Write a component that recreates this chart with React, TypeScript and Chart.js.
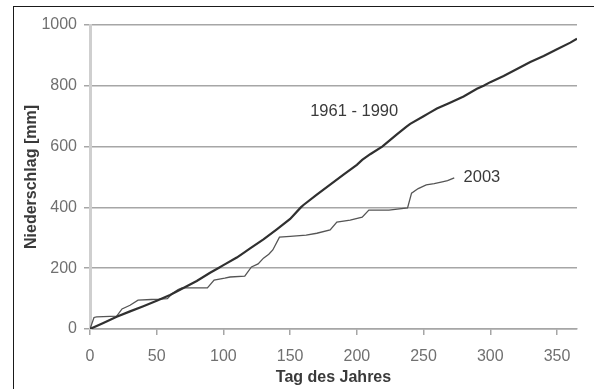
import React, { useEffect, useRef } from "react";
import { Chart, registerables } from "chart.js";

Chart.register(...registerables);

const normalDays = [0, 10, 20, 30, 40, 50, 60, 70, 80, 90, 96, 100, 110, 116, 120, 130, 140, 150, 158, 160, 170, 180, 190, 200, 204, 210, 219, 230, 237, 240, 250, 254, 260, 269, 280, 290, 295, 300, 310, 320, 330, 340, 350, 360, 365];
const normalValues = [0, 20, 40, 58, 75, 93, 112, 135, 158, 185, 200, 210, 235, 253, 265, 295, 328, 362, 400, 408, 442, 475, 508, 540, 556, 575, 600, 640, 665, 675, 700, 710, 725, 743, 765, 790, 800, 812, 832, 855, 878, 898, 920, 942, 955];

const days2003 = [0, 3, 5, 20, 24, 30, 36, 46, 52, 58, 62, 66, 69, 88, 93, 101, 105, 116, 121, 126, 130, 134, 137, 142, 150, 162, 170, 180, 185, 195, 204, 209, 224, 238, 241, 246, 252, 258, 264, 268, 273];
const values2003 = [0, 38, 40, 42, 66, 78, 95, 97, 98, 100, 118, 130, 135, 135, 161, 167, 171, 174, 204, 214, 233, 246, 260, 302, 305, 309, 315, 326, 352, 358, 368, 391, 391, 398, 447, 462, 474, 478, 484, 488, 497];

const yTicks = [0, 200, 400, 600, 800, 1000];
const xTicks = [0, 50, 100, 150, 200, 250, 300, 350];

const seriesLabels = ["1961 - 1990", "2003"];
const labelAnchors = [
  { day: 165, value: 714, align: "left" as CanvasTextAlign },
  { day: 280, value: 497, align: "left" as CanvasTextAlign },
];

const FONT = "'Liberation Sans', Arial, sans-serif";

const annotationPlugin = {
  id: "seriesLabels",
  afterDatasetsDraw(chart: any) {
    const { ctx, scales } = chart;
    ctx.save();
    ctx.font = `16.5px ${FONT}`;
    ctx.fillStyle = "#3a3a3a";
    ctx.textBaseline = "middle";
    seriesLabels.forEach((txt, i) => {
      const a = labelAnchors[i];
      ctx.textAlign = a.align;
      ctx.fillText(txt, scales.x.getPixelForValue(a.day), scales.y.getPixelForValue(a.value));
    });
    ctx.restore();
  },
};

export default function App() {
  const ref = useRef<HTMLCanvasElement | null>(null);
  useEffect(() => {
    if (!ref.current) return;
    const chart = new Chart(ref.current, {
      type: "line",
      data: {
        datasets: [
          {
            label: seriesLabels[0],
            data: normalDays.map((d, i) => ({ x: d, y: normalValues[i] })),
            borderColor: "#303030",
            borderWidth: 2.2,
            pointRadius: 0,
            tension: 0,
          },
          {
            label: seriesLabels[1],
            data: days2003.map((d, i) => ({ x: d, y: values2003[i] })),
            borderColor: "#555555",
            borderWidth: 1.3,
            pointRadius: 0,
            tension: 0,
          },
        ],
      },
      options: {
        responsive: false,
        animation: false,
        layout: { padding: { top: 25, right: 17, left: 0, bottom: 0 } },
        plugins: { legend: { display: false }, tooltip: { enabled: false } },
        scales: {
          x: {
            type: "linear",
            min: 0,
            max: 365,
            afterFit(scale: any) {
              scale.height = 60;
            },
            afterBuildTicks(scale: any) {
              scale.ticks = xTicks.map((v) => ({ value: v }));
            },
            ticks: {
              color: "#707070",
              font: { family: FONT, size: 16 },
              padding: 12,
              maxRotation: 0,
              autoSkip: false,
              callback: (v: any) => String(v),
            },
            grid: {
              drawOnChartArea: false,
              drawTicks: true,
              tickLength: 6,
              color: "#a6a6a6",
              lineWidth: 1.5,
            },
            border: { color: "#a6a6a6", width: 1.5 },
            title: {
              display: true,
              text: "Tag des Jahres",
              color: "#3a3a3a",
              font: { family: FONT, size: 16, weight: "bold" },
              padding: 2,
            },
          },
          y: {
            type: "linear",
            min: 0,
            max: 1000,
            afterFit(scale: any) {
              scale.width = 90;
            },
            afterBuildTicks(scale: any) {
              scale.ticks = yTicks.map((v) => ({ value: v }));
            },
            ticks: {
              color: "#707070",
              font: { family: FONT, size: 16 },
              padding: 7,
              callback: (v: any) => String(v),
            },
            grid: {
              color: "#a6a6a6",
              lineWidth: 1.5,
              tickLength: 6,
            },
            border: { color: "#cfcfcf", width: 3 },
            title: {
              display: true,
              text: "Niederschlag [mm]",
              color: "#3a3a3a",
              font: { family: FONT, size: 16, weight: "bold" },
              padding: 22,
            },
          },
        },
      },
      plugins: [annotationPlugin],
    });
    return () => chart.destroy();
  }, []);

  return (
    <div style={{ position: "fixed", left: 0, top: 0, width: 594, height: 389, background: "#fff" }}>
      <canvas ref={ref} width={594} height={389} style={{ position: "absolute", left: 0, top: 0 }} />
      <div
        style={{
          position: "absolute",
          left: 13,
          top: 6,
          width: 594 - 13,
          height: 389 - 6,
          borderLeft: "1.5px solid #1a1a1a",
          borderTop: "1.5px solid #1a1a1a",
          boxSizing: "border-box",
          pointerEvents: "none",
        }}
      />
    </div>
  );
}
